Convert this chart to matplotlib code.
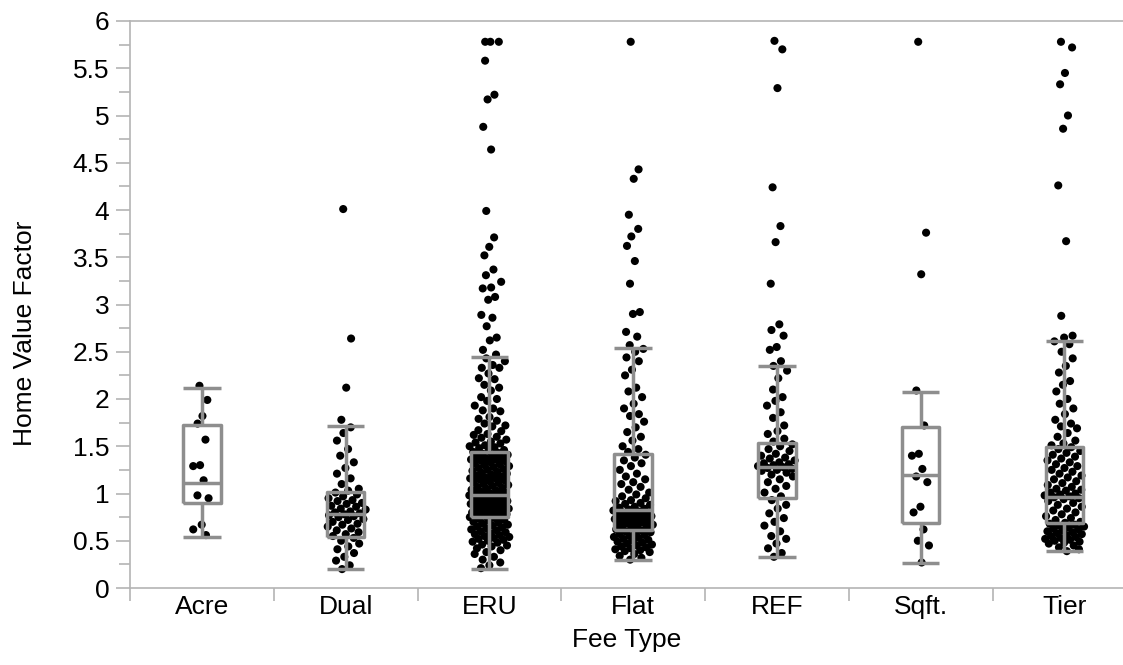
import matplotlib
matplotlib.use("Agg")
import matplotlib.pyplot as plt
import numpy as np

plt.rcParams['font.family'] = ['Liberation Sans', 'DejaVu Sans']

# --- data ---
fee_types = ["Acre", "Dual", "ERU", "Flat", "REF", "Sqft.", "Tier"]

acre = [2.14, 1.99, 1.82, 1.74, 1.57, 1.30, 1.29, 1.14, 0.98, 0.95, 0.67, 0.62, 0.56]

dual = [4.01, 2.64, 2.12, 1.78, 1.70, 1.64, 1.56, 1.47, 1.40, 1.33, 1.27, 1.21,
        1.16, 1.10, 1.05, 1.03, 1.01, 0.99, 0.97, 0.95, 0.93, 0.92, 0.90, 0.89,
        0.87, 0.86, 0.84, 0.83, 0.81, 0.80, 0.79, 0.78, 0.77, 0.76, 0.75, 0.73,
        0.72, 0.70, 0.68, 0.67, 0.65, 0.63, 0.61, 0.59, 0.57, 0.55, 0.53, 0.50,
        0.47, 0.44, 0.41, 0.37, 0.33, 0.29, 0.24, 0.20]

eru = [5.78, 5.78, 5.78, 5.58, 5.22, 5.17, 4.88, 4.64, 3.99, 3.71, 3.61, 3.52,
       3.37, 3.31, 3.24, 3.18, 3.17, 3.08, 3.05, 2.89, 2.86, 2.77, 2.65, 2.62,
       2.52, 2.47,
       2.43, 2.40, 2.36, 2.33, 2.33, 2.27, 2.22, 2.21, 2.15, 2.12, 2.09, 2.02,
       2.00, 1.98, 1.93, 1.90, 1.88, 1.87, 1.81, 1.79, 1.77, 1.74, 1.72, 1.71,
       1.67, 1.66, 1.63, 1.62, 1.60, 1.59, 1.57, 1.55, 1.54, 1.53, 1.51, 1.50,
       1.49, 1.48, 1.46, 1.45,
       1.44, 1.43, 1.42, 1.41, 1.40, 1.39, 1.38, 1.37, 1.36, 1.36, 1.35, 1.34,
       1.33, 1.32, 1.31, 1.30, 1.29, 1.28, 1.27, 1.26, 1.25, 1.24, 1.23, 1.22,
       1.21, 1.20, 1.19, 1.18, 1.17, 1.16, 1.16, 1.15, 1.14, 1.13, 1.12, 1.11,
       1.10, 1.09, 1.08, 1.07, 1.06, 1.05, 1.04, 1.03, 1.02, 1.01, 1.00, 1.00,
       0.99, 0.98, 0.98, 0.97, 0.96, 0.96, 0.95, 0.94, 0.94, 0.93, 0.92, 0.92,
       0.91, 0.90, 0.90, 0.89, 0.88, 0.87, 0.87, 0.86, 0.86, 0.85, 0.84, 0.84,
       0.83, 0.82, 0.81, 0.81, 0.80, 0.80, 0.79, 0.78, 0.78, 0.77, 0.76, 0.76,
       0.75,
       0.74, 0.73, 0.72, 0.71, 0.70, 0.69, 0.68, 0.67, 0.66, 0.65, 0.64, 0.63,
       0.62, 0.61, 0.60, 0.59, 0.58, 0.57, 0.56, 0.55, 0.54, 0.53, 0.52, 0.51,
       0.50, 0.49, 0.48, 0.46, 0.45, 0.44, 0.42, 0.40, 0.38, 0.36, 0.33, 0.30,
       0.27, 0.24, 0.21]

flat = [5.78, 4.43, 4.33, 3.95, 3.80, 3.72, 3.62, 3.46, 3.22, 2.92, 2.90, 2.71,
        2.66, 2.57,
        2.53, 2.50, 2.44, 2.40, 2.31, 2.25, 2.12, 2.08, 2.02, 1.95, 1.90, 1.84,
        1.82, 1.76, 1.70, 1.65, 1.60, 1.56, 1.50, 1.47, 1.44,
        1.41, 1.38, 1.35, 1.32, 1.29, 1.25, 1.21, 1.18, 1.15, 1.12, 1.10, 1.07,
        1.04, 1.01, 0.99, 0.97, 0.95, 0.93, 0.92, 0.90, 0.89, 0.88, 0.86, 0.85,
        0.84, 0.83, 0.82, 0.81, 0.80, 0.80, 0.79, 0.78, 0.78, 0.77, 0.76, 0.76,
        0.75, 0.74, 0.74, 0.73, 0.72, 0.72, 0.71, 0.70, 0.69, 0.69, 0.68, 0.67,
        0.66, 0.65, 0.64, 0.63, 0.62, 0.61,
        0.60, 0.59, 0.58, 0.57, 0.56, 0.55, 0.54, 0.53, 0.52, 0.51, 0.50, 0.49,
        0.48, 0.47, 0.46, 0.45, 0.44, 0.43, 0.42, 0.41, 0.40, 0.39, 0.38, 0.36,
        0.34, 0.32, 0.30]

ref = [5.79, 5.70, 5.29, 4.24, 3.83, 3.66, 3.22, 2.79, 2.73, 2.67, 2.55, 2.52,
       2.40,
       2.35, 2.30, 2.22, 2.10, 2.02, 1.98, 1.93, 1.86, 1.80, 1.72, 1.66, 1.63,
       1.58, 1.55,
       1.52, 1.50, 1.47, 1.45, 1.42, 1.40, 1.38, 1.37, 1.35, 1.33, 1.32, 1.31,
       1.30, 1.29, 1.28, 1.27, 1.26, 1.25, 1.24, 1.22, 1.20, 1.18, 1.15, 1.12,
       1.08, 1.05, 1.01, 0.97,
       0.93, 0.88, 0.84, 0.79, 0.74, 0.70, 0.66, 0.60, 0.55, 0.52, 0.47, 0.42,
       0.37, 0.33]

sqft = [5.78, 3.76, 3.32, 2.09, 1.72, 1.42, 1.40, 1.26, 1.18, 1.12, 0.86, 0.80,
        0.62, 0.50, 0.45, 0.27]

tier = [5.78, 5.72, 5.45, 5.33, 5.00, 4.86, 4.26, 3.67, 2.88, 2.67, 2.65,
        2.61, 2.58, 2.50, 2.43, 2.35, 2.28, 2.19, 2.15, 2.08, 2.00, 1.95, 1.90,
        1.84, 1.78, 1.74, 1.71, 1.69, 1.64, 1.60, 1.56, 1.53, 1.51,
        1.49, 1.47, 1.45, 1.43, 1.41, 1.39, 1.37, 1.35, 1.33, 1.31, 1.29, 1.27,
        1.25, 1.23, 1.21, 1.19, 1.17, 1.15, 1.13, 1.11, 1.09, 1.07, 1.05, 1.04,
        1.03, 1.01, 1.00, 0.99, 0.98, 0.97, 0.96, 0.95, 0.94, 0.92, 0.90, 0.88,
        0.86, 0.84, 0.82, 0.80, 0.78, 0.76, 0.74, 0.72, 0.70,
        0.69, 0.68, 0.67, 0.66, 0.65, 0.64, 0.63, 0.62, 0.61, 0.60, 0.59, 0.58,
        0.57, 0.56, 0.55, 0.54, 0.53, 0.52, 0.51, 0.50, 0.49, 0.48, 0.47, 0.45,
        0.43, 0.41, 0.39]

all_values = [acre, dual, eru, flat, ref, sqft, tier]

# box summary per fee type (whisker low, q1, median, q3, whisker high)
whisker_low = [0.54, 0.20, 0.20, 0.30, 0.33, 0.26, 0.39]
quart_1 = [0.90, 0.54, 0.75, 0.61, 0.95, 0.69, 0.69]
medians = [1.11, 0.78, 0.98, 0.83, 1.28, 1.20, 0.96]
quart_3 = [1.72, 1.02, 1.44, 1.42, 1.53, 1.70, 1.49]
whisker_high = [2.12, 1.71, 2.44, 2.54, 2.35, 2.07, 2.61]

BOX_GRAY = "#8e8e8e"
AXIS_GRAY = "#b4b4b4"
FONT_SIZE = 19


def jitter_offsets(values, half_width=0.14):
    """Deterministic jitter, wider where points are dense."""
    vals = np.asarray(values)
    offsets = []
    for i, v in enumerate(vals):
        count = np.sum(np.abs(vals - v) < 0.08)
        width = half_width * min(1.0, np.sqrt(count / 10.0))
        u = (i * 0.6180339887 + 0.31) % 1.0
        offsets.append((u - 0.5) * 2 * width)
    return np.array(offsets)


fig = plt.figure(figsize=(11.23, 6.65), dpi=100)
ax = fig.add_axes([130 / 1123, 77 / 665, 993 / 1123, 567 / 665])

for i, vals in enumerate(all_values):
    xs = i + jitter_offsets(vals)
    ax.scatter(xs, vals, s=34, color="black", edgecolors="none", zorder=2)

stats = []
for i, name in enumerate(fee_types):
    stats.append({"label": name, "whislo": whisker_low[i], "q1": quart_1[i],
                  "med": medians[i], "q3": quart_3[i], "whishi": whisker_high[i],
                  "fliers": []})

line_kw = dict(color=BOX_GRAY, linewidth=2.5, solid_capstyle="butt")
ax.bxp(stats, positions=range(len(fee_types)), widths=0.26, capwidths=0.26,
       showfliers=False, boxprops=line_kw, whiskerprops=line_kw,
       capprops=line_kw, medianprops=line_kw, zorder=3)

ax.set_xlim(-0.5, -0.5 + 993 / 143.75)
ax.set_ylim(0, 6)

ax.set_yticks(np.arange(0, 6.01, 0.5))
ax.set_yticklabels([f"{t:g}" for t in np.arange(0, 6.01, 0.5)])
ax.set_yticks(np.arange(0.25, 6, 0.5), minor=True)
ax.tick_params(axis="y", which="major", length=10, width=1.2, color=AXIS_GRAY,
               labelsize=FONT_SIZE, pad=5)
ax.tick_params(axis="y", which="minor", length=8, width=1.2, color=AXIS_GRAY)

ax.set_xticks(range(len(fee_types)))
ax.set_xticklabels(fee_types)
ax.set_xticks(np.arange(-0.5, 6.0, 1.0), minor=True)
ax.tick_params(axis="x", which="major", length=0, labelsize=FONT_SIZE, pad=5)
ax.tick_params(axis="x", which="minor", length=9, width=1.2, color=AXIS_GRAY)

for side in ["left", "bottom", "top"]:
    ax.spines[side].set_color(AXIS_GRAY)
    ax.spines[side].set_linewidth(1.2)
ax.spines["right"].set_visible(False)

ax.set_ylabel("Home Value Factor", fontsize=FONT_SIZE)
ax.yaxis.set_label_coords(-93 / 993, 0.45)
ax.set_xlabel("Fee Type", fontsize=FONT_SIZE)
ax.xaxis.set_label_coords(0.5, -40 / 567)

plt.savefig("out.png", dpi=100)
plt.close()
